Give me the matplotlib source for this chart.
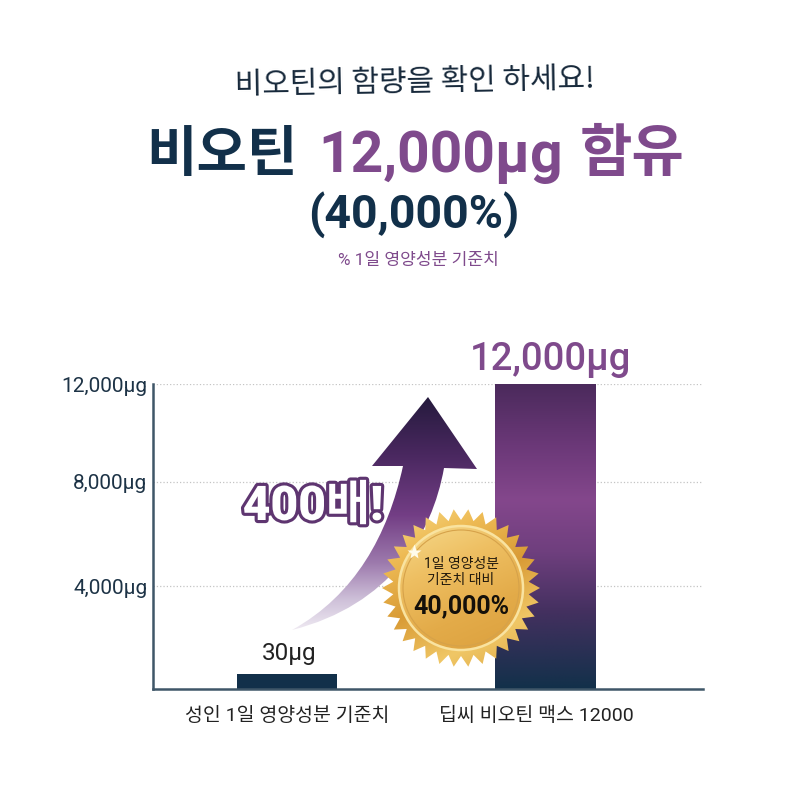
import numpy as np
import matplotlib
matplotlib.use('Agg')
import matplotlib.pyplot as plt
import matplotlib.patheffects as pe
from matplotlib.colors import LinearSegmentedColormap
from matplotlib.patches import Polygon, PathPatch, Circle
from matplotlib.path import Path

FONTS = ['Roboto', 'Noto Sans CJK KR', 'DejaVu Sans']
plt.rcParams['font.family'] = FONTS

NAVY = '#12304a'
PURPLE = '#7f4a8c'

#chart values
categories = ['성인 1일 영양성분 기준치', '딥씨 비오틴 맥스 12000']
bar_heights = [600, 12000]
bar_labels = ['30µg', '12,000µg']
tick_values = [4050, 8145, 12000]
tick_labels = ['4,000µg', '8,000µg', '12,000µg']

fig = plt.figure(figsize=(8, 8), dpi=100, facecolor='white')
ax = fig.add_axes([153 / 800, 111 / 800, 550 / 800, 305 / 800])
ax.set_xlim(-0.519, 1.612)
ax.set_ylim(0, 12000)

#grid and axes
ax.set_yticks(tick_values)
ax.set_yticklabels(tick_labels, fontsize=15, color='#1d3346')
ax.set_xticks([0, 0.965])
ax.set_xticklabels(categories, fontsize=14, color='#222222')
ax.tick_params(axis='both', length=0)
ax.tick_params(axis='y', pad=4)
ax.tick_params(axis='x', pad=13)
ax.grid(axis='y', color='#c4c4c4', linestyle=':', linewidth=0.9)
ax.set_axisbelow(True)
for side in ['top', 'right']:
    ax.spines[side].set_visible(False)
for side in ['left', 'bottom']:
    ax.spines[side].set_color('#3f5668')
    ax.spines[side].set_linewidth(1.8)

#bars, the tall one gets a gradient
bars = ax.bar([0, 1], bar_heights, width=0.388, color=[NAVY, 'none'], zorder=2)
bar_cmap = LinearSegmentedColormap.from_list('bar', [
    (0.0, '#4b2a5c'), (0.2, '#6b3878'), (0.38, '#84478c'), (0.55, '#6f3f7e'),
    (0.75, '#43305f'), (1.0, '#12304a')])
bar = bars[1]
img = ax.imshow(np.linspace(0, 1, 256).reshape(-1, 1), cmap=bar_cmap, aspect='auto', zorder=2,
                extent=[bar.get_x(), bar.get_x() + bar.get_width(), 0, bar.get_height()])
img.set_clip_path(bar)
ax.set_xlim(-0.519, 1.612)
ax.set_ylim(0, 12000)

ax.annotate(bar_labels[0], (0.01, bar_heights[0]), xytext=(0, 6), textcoords='offset points',
            ha='center', va='bottom', fontsize=17.5, color='#222222')
ax.annotate(bar_labels[1], (1.02, bar_heights[1]), xytext=(0, 4.5), textcoords='offset points',
            ha='center', va='bottom', fontsize=27.5, color=PURPLE, fontweight='medium', annotation_clip=False)

#overlay in pixel coordinates for titles, arrow and badge
ov = fig.add_axes([0, 0, 1, 1], facecolor='none')
ov.set_xlim(0, 800)
ov.set_ylim(800, 0)
ov.axis('off')

ov.text(415, 82, '비오틴의 함량을 확인 하세요!', ha='center', va='center', fontsize=21.5,
        color='#16283a', family=['Noto Sans CJK KR', 'DejaVu Sans'], rotation=1)
ov.text(146, 156, '비오틴', ha='left', va='center', fontsize=39.5, color=NAVY, fontweight='bold')
ov.text(318, 157, '12,000µg', ha='left', va='center', fontsize=41, color=PURPLE, fontweight='bold')
ov.text(580, 156, '함유', ha='left', va='center', fontsize=41, color=PURPLE, fontweight='bold')
ov.text(414, 215, '(40,000%)', ha='center', va='center', fontsize=33.5, color=NAVY, fontweight='bold')
ov.text(418, 260, '% 1일 영양성분 기준치', ha='center', va='center', fontsize=12.3, color=PURPLE)

#curved arrow
verts = [(428, 397), (477, 469), (444, 468),
         (432, 535), (390, 605), (292, 630),
         (355, 595), (388, 535), (403, 466),
         (372, 466), (428, 397)]
codes = [Path.MOVETO, Path.LINETO, Path.LINETO,
         Path.CURVE4, Path.CURVE4, Path.CURVE4,
         Path.CURVE4, Path.CURVE4, Path.CURVE4,
         Path.LINETO, Path.CLOSEPOLY]
arrow = PathPatch(Path(verts, codes), facecolor='none', edgecolor='none', zorder=3)
ov.add_patch(arrow)
arrow_cmap = LinearSegmentedColormap.from_list('arrow', [
    (0.0, '#241a3c'), (0.25, '#4a2860'), (0.5, '#733e85'), (0.7, '#9d7aad'),
    (0.85, '#cdbfd8'), (1.0, '#f4f0f6')])
arrow_img = ov.imshow(np.linspace(0, 1, 256).reshape(-1, 1), cmap=arrow_cmap, aspect='auto',
                      extent=[280, 480, 635, 395], zorder=3)
arrow_img.set_clip_path(arrow)

txt = ov.text(313, 507, '400배!', ha='center', va='center', fontsize=34.5, color='white',
              fontweight='black', zorder=4)
txt.set_path_effects([pe.withStroke(linewidth=4.5, foreground='#5e3570')])

#gold badge
cx, cy = 461, 588
n_points = 34
angles = np.linspace(0, 2 * np.pi, 2 * n_points, endpoint=False)
radii = np.where(np.arange(2 * n_points) % 2 == 0, 79, 68)
star = Polygon(np.column_stack([cx + radii * np.cos(angles), cy + radii * np.sin(angles)]),
               facecolor='none', edgecolor='none', zorder=5)
ov.add_patch(star)
gold_cmap = LinearSegmentedColormap.from_list('gold', ['#f9e08f', '#eebb55', '#d99b35', '#f0c766', '#dca542'])
yy, xx = np.mgrid[-1:1:300j, -1:1:300j]
shade = (xx * 0.45 + yy * 0.9 + 1.4) / 2.8
gold_img = ov.imshow(shade, cmap=gold_cmap, aspect='auto', extent=[cx - 80, cx + 80, cy + 80, cy - 80],
                     zorder=5, vmin=0, vmax=1)
gold_img.set_clip_path(star)

disc = Circle((cx, cy), 62, facecolor='none', edgecolor='#f9e3a0', linewidth=1.8, zorder=5.6)
ov.add_patch(disc)
disc_cmap = LinearSegmentedColormap.from_list('disc', ['#f6d98a', '#eebf62', '#e3ab49', '#dba03e'])
disc_shade = np.clip((xx * 0.35 + yy * 0.8 + 1.15) / 2.3, 0, 1)
disc_img = ov.imshow(disc_shade, cmap=disc_cmap, aspect='auto', zorder=5.5, vmin=0, vmax=1,
                     extent=[cx - 62, cx + 62, cy + 62, cy - 62])
disc_img.set_clip_path(Circle((cx, cy), 62, transform=ov.transData))
ov.add_patch(Circle((cx, cy), 58, facecolor='none', edgecolor='#d6a24a', linewidth=0.8, zorder=5.6))
ov.plot([414], [552], marker='*', markersize=11, color='#fffbea', markeredgecolor='none', zorder=5.7)

ov.text(461, 564, '1일 영양성분', ha='center', va='center', fontsize=10, color='#20180c', zorder=6)
ov.text(461, 580, '기준치 대비', ha='center', va='center', fontsize=10, color='#20180c', zorder=6)
ov.text(461, 606, '40,000%', ha='center', va='center', fontsize=18, color='#14100a', fontweight='bold', zorder=6)

ov.set_xlim(0, 800)
ov.set_ylim(800, 0)

fig.savefig('out.png', dpi=100)
